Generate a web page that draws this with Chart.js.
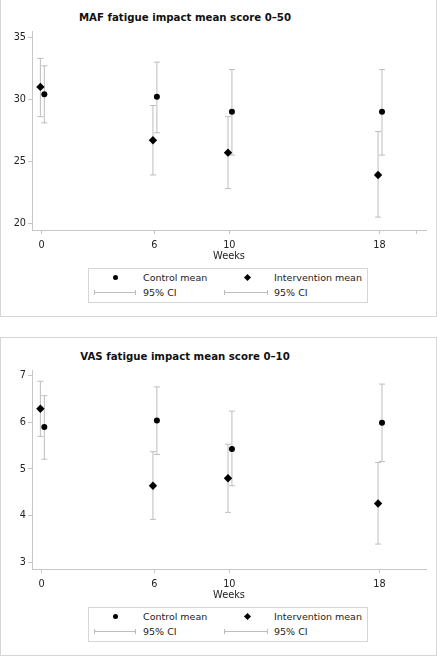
<!DOCTYPE html>
<html>
<head>
<meta charset="utf-8">
<script src="https://cdn.jsdelivr.net/npm/chart.js@4.4.1/dist/chart.umd.min.js"></script>
<style>
  html, body { margin:0; padding:0; background:#fff; }
  body { width:437px; height:656px; position:relative; overflow:hidden; font-family:"DejaVu Sans", sans-serif; }
  .panel { position:absolute; left:0; width:437px; height:319px; border:1px solid #d6d6d6; box-sizing:border-box; }
  .panel canvas { position:absolute; left:0; top:0; }
  .title { position:absolute; left:0; width:368px; top:13px; line-height:12px; text-align:center;
           font-weight:bold; font-size:10.2px; color:#111; }
  .legend { position:absolute; left:87px; top:269px; width:280px; height:35px; border:1px solid #d6d6d6; box-sizing:border-box;
            font-size:9.5px; color:#222; }
  .legend .txt { position:absolute; line-height:12px; white-space:nowrap; }
  .legend .dot { position:absolute; width:5px; height:5px; border-radius:50%; background:#000; }
  .legend .dia { position:absolute; width:5px; height:5px; background:#000; transform:rotate(45deg); }
  .legend .ci { position:absolute; height:5px; border-left:1px solid #bdbdbd; border-right:1px solid #bdbdbd; box-sizing:border-box; }
  .legend .ci::after { content:""; position:absolute; left:0; right:0; top:2px; height:1px; background:#bdbdbd; }
</style>
</head>
<body>

<div class="panel" style="top:-2px">
  <div class="title">MAF fatigue impact mean score 0–50</div>
  <canvas id="mafChart" width="435" height="264"></canvas>
  <div class="legend">
    <span class="dot" style="left:24px;top:6px"></span><span class="txt" style="left:54px;top:3px">Control mean</span>
    <span class="dia" style="left:156px;top:6px"></span><span class="txt" style="left:185px;top:3px">Intervention mean</span>
    <span class="ci" style="left:5px;top:21px;width:42px"></span><span class="txt" style="left:54px;top:18px">95% CI</span>
    <span class="ci" style="left:135px;top:21px;width:44px"></span><span class="txt" style="left:185px;top:18px">95% CI</span>
  </div>
</div>

<div class="panel" style="top:337px">
  <div class="title">VAS fatigue impact mean score 0–10</div>
  <canvas id="vasChart" width="435" height="264"></canvas>
  <div class="legend">
    <span class="dot" style="left:24px;top:6px"></span><span class="txt" style="left:54px;top:3px">Control mean</span>
    <span class="dia" style="left:156px;top:6px"></span><span class="txt" style="left:185px;top:3px">Intervention mean</span>
    <span class="ci" style="left:5px;top:21px;width:42px"></span><span class="txt" style="left:54px;top:18px">95% CI</span>
    <span class="ci" style="left:135px;top:21px;width:44px"></span><span class="txt" style="left:185px;top:18px">95% CI</span>
  </div>
</div>

<script>
// weeks of measurement
const weeks = [0, 6, 10, 18];

// MAF fatigue impact (0-50)
const mafControlMean = [30.4, 30.2, 29.0, 29.0];
const mafControlLow  = [28.1, 27.3, 25.5, 25.5];
const mafControlHigh = [32.7, 33.0, 32.4, 32.4];
const mafInterMean   = [31.0, 26.7, 25.7, 23.9];
const mafInterLow    = [28.6, 23.9, 22.8, 20.5];
const mafInterHigh   = [33.3, 29.5, 28.6, 27.4];
const mafYTicks = [20, 25, 30, 35];
const mafXTicks = [0, 6, 10, 18, 20];

// VAS fatigue impact (0-10)
const vasControlMean = [5.90, 6.04, 5.43, 5.99];
const vasControlLow  = [5.21, 5.31, 4.64, 5.16];
const vasControlHigh = [6.57, 6.76, 6.24, 6.82];
const vasInterMean   = [6.29, 4.64, 4.80, 4.26];
const vasInterLow    = [5.70, 3.92, 4.07, 3.39];
const vasInterHigh   = [6.88, 5.37, 5.53, 5.14];
const vasYTicks = [3, 4, 5, 6, 7];
const vasXTicks = [0, 6, 10, 18];
const xLabels = ['0', '6', '10', '18'];

// small horizontal shift so the two groups don't overlap
const INTER_SHIFT = -0.07, CTRL_SHIFT = 0.14;

const AXIS_COLOR = '#c6c6c6';
const CI_COLOR = '#bdbdbd';
const TICK_FONT = { family:'DejaVu Sans', size:9.7 };

function points(xs, ys, shift){
  return xs.map((x,i) => ({ x: x + shift, y: ys[i] }));
}

function ciSegments(xs, lo, hi, shift){
  const out = [];
  xs.forEach((x,i) => {
    out.push({ x: x + shift, y: lo[i] });
    out.push({ x: x + shift, y: hi[i] });
    out.push({ x: x + shift, y: null });
  });
  return out;
}

function makeChart(id, d){
  const ciStyle = {
    type:'line', showLine:true, spanGaps:false, fill:false,
    borderColor:CI_COLOR, borderWidth:1,
    pointStyle:'line', pointRadius:3, pointBorderColor:CI_COLOR, pointBorderWidth:1
  };
  return new Chart(document.getElementById(id), {
    type:'scatter',
    data:{ datasets:[
      { label:'Control mean', data:points(weeks, d.cMean, CTRL_SHIFT), pointStyle:'circle', pointRadius:3,
        backgroundColor:'#000', borderColor:'#000', borderWidth:0 },
      { label:'Intervention mean', data:points(weeks, d.iMean, INTER_SHIFT), pointStyle:'rectRot', pointRadius:4.2,
        backgroundColor:'#000', borderColor:'#000', borderWidth:0 },
      Object.assign({ label:'95% CI', data:ciSegments(weeks, d.cLow, d.cHigh, CTRL_SHIFT) }, ciStyle),
      Object.assign({ label:'95% CI', data:ciSegments(weeks, d.iLow, d.iHigh, INTER_SHIFT) }, ciStyle)
    ]},
    options:{
      responsive:false, animation:false, devicePixelRatio:1,
      layout:{ padding:{ top:32, right:10, left:0, bottom:0 } },
      plugins:{ legend:{display:false}, tooltip:{enabled:false}, title:{display:false} },
      scales:{
        x:{
          type:'linear', min:-0.517, max:20.485,
          afterBuildTicks:(s) => { s.ticks = d.xTicks.map(v => ({ value:v })); },
          afterFit:(s) => { s.height = 33; },
          ticks:{ color:'#222', font:TICK_FONT, padding:6, maxRotation:0,
                  callback:(v) => { const i = weeks.indexOf(v); return i >= 0 ? xLabels[i] : ''; } },
          grid:{ drawOnChartArea:false, drawTicks:true, tickLength:4, color:AXIS_COLOR },
          border:{ display:true, color:AXIS_COLOR },
          title:{ display:true, text:'Weeks', color:'#222', font:{ family:'DejaVu Sans', size:9.8 }, padding:{ top:0, bottom:1 } }
        },
        y:{
          type:'linear', min:d.yMin, max:d.yMax,
          afterBuildTicks:(s) => { s.ticks = d.yTicks.map(v => ({ value:v })); },
          afterFit:(s) => { s.width = 31; },
          ticks:{ color:'#222', font:TICK_FONT, padding:2 },
          grid:{ drawOnChartArea:false, drawTicks:true, tickLength:4, color:AXIS_COLOR },
          border:{ display:true, color:AXIS_COLOR }
        }
      }
    }
  });
}

makeChart('mafChart', {
  cMean:mafControlMean, cLow:mafControlLow, cHigh:mafControlHigh,
  iMean:mafInterMean, iLow:mafInterLow, iHigh:mafInterHigh,
  yTicks:mafYTicks, xTicks:mafXTicks, yMin:19.46, yMax:35.51
});

makeChart('vasChart', {
  cMean:vasControlMean, cLow:vasControlLow, cHigh:vasControlHigh,
  iMean:vasInterMean, iLow:vasInterLow, iHigh:vasInterHigh,
  yTicks:vasYTicks, xTicks:vasXTicks, yMin:2.856, yMax:7.122
});
</script>
</body>
</html>
